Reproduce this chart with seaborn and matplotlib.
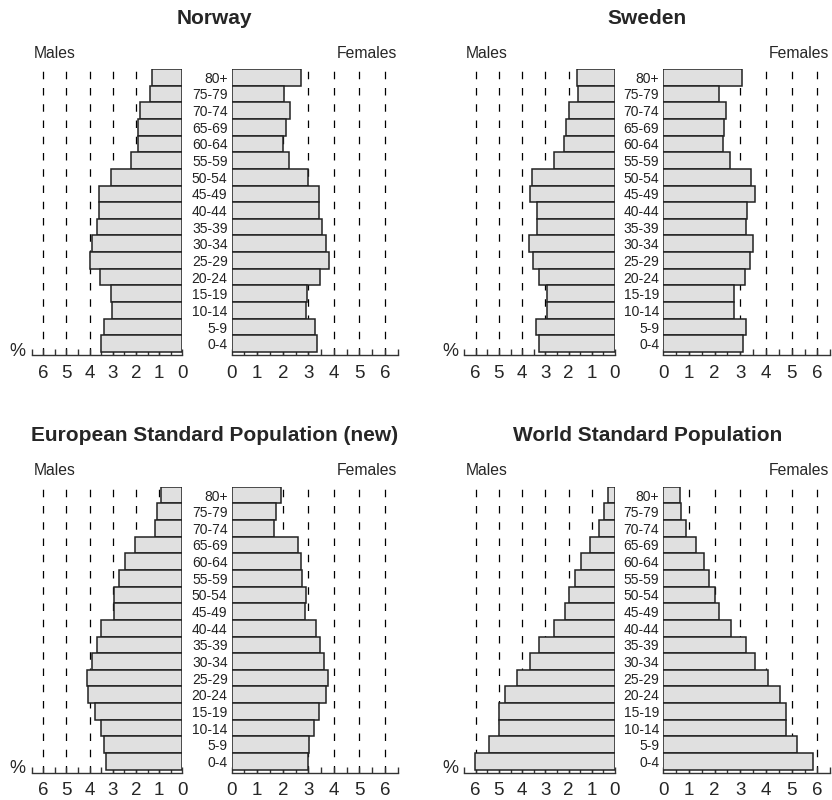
import matplotlib
matplotlib.use("Agg")
import matplotlib.pyplot as plt
from matplotlib.ticker import MultipleLocator
import seaborn as sns
import pandas as pd

# Age groups from youngest to oldest
age_groups = ["0-4", "5-9", "10-14", "15-19", "20-24", "25-29", "30-34", "35-39",
              "40-44", "45-49", "50-54", "55-59", "60-64", "65-69", "70-74", "75-79", "80+"]

# Percent of population per age group
norway_males = [3.53, 3.40, 3.05, 3.09, 3.57, 3.99, 3.88, 3.70, 3.58, 3.61, 3.06, 2.22, 1.93, 1.91, 1.83, 1.40, 1.32]
norway_females = [3.34, 3.25, 2.89, 2.95, 3.47, 3.82, 3.68, 3.53, 3.43, 3.42, 2.97, 2.23, 2.02, 2.14, 2.27, 2.06, 2.70]
sweden_males = [3.29, 3.42, 2.94, 2.91, 3.29, 3.55, 3.72, 3.36, 3.37, 3.66, 3.56, 2.61, 2.21, 2.10, 2.00, 1.59, 1.62]
sweden_females = [3.12, 3.23, 2.77, 2.77, 3.17, 3.39, 3.51, 3.23, 3.26, 3.56, 3.43, 2.61, 2.32, 2.36, 2.43, 2.17, 3.06]
esp_males = [3.31, 3.38, 3.53, 3.77, 4.06, 4.10, 3.88, 3.70, 3.51, 2.96, 2.95, 2.75, 2.49, 2.04, 1.19, 1.08, 0.92]
esp_females = [2.99, 3.04, 3.21, 3.43, 3.70, 3.75, 3.60, 3.47, 3.31, 2.86, 2.89, 2.76, 2.71, 2.58, 1.67, 1.75, 1.92]
wsp_males = [6.04, 5.41, 4.98, 4.98, 4.72, 4.21, 3.66, 3.29, 2.64, 2.15, 1.98, 1.72, 1.45, 1.08, 0.69, 0.46, 0.32]
wsp_females = [5.84, 5.22, 4.79, 4.79, 4.56, 4.09, 3.58, 3.23, 2.62, 2.16, 2.01, 1.79, 1.57, 1.29, 0.90, 0.70, 0.66]

titles = ["Norway", "Sweden", "European Standard Population (new)", "World Standard Population"]
panels = [(norway_males, norway_females), (sweden_males, sweden_females),
          (esp_males, esp_females), (wsp_males, wsp_females)]

sns.set_style("white")
plt.rcParams['font.family'] = ['Liberation Sans', 'DejaVu Sans']

W, H = 832, 800
fig = plt.figure(figsize=(W / 100, H / 100), dpi=100)

FILL = "#e0e0e0"
EDGE = "#222222"
order = age_groups[::-1]  # oldest at top


def px_axes(x0, x1, y_top, y_bot):
    return fig.add_axes([x0 / W, 1 - y_bot / H, (x1 - x0) / W, (y_bot - y_top) / H])


def style_axis(ax):
    for s in ["top", "right", "left"]:
        ax.spines[s].set_visible(False)
    ax.spines["bottom"].set_color("#333333")
    ax.spines["bottom"].set_linewidth(1.0)
    ax.set_xlim(0, 6.5)
    ax.set_xticks(range(7))
    ax.xaxis.set_minor_locator(MultipleLocator(0.5))
    ax.tick_params(axis="x", which="both", bottom=True, direction="in", length=4, width=1,
                   color="#333333", labelsize=13.5, pad=7)
    ax.set_ylim(16.68, -0.5)
    for v in range(1, 7):
        ax.axvline(v, color="black", lw=0.9, ls=(0, (6, 7)), zorder=0)
    ax.set_xlabel("")
    ax.set_ylabel("")


# layout in pixels: (male x0, male zero, female zero, female x1)
cols = [(31.7, 182.3, 231.7, 397.8), (464.1, 615.0, 663.3, 830.2)]
rows = [(69, 355), (486.7, 772.7)]

for i, (title, (males, females)) in enumerate(zip(titles, panels)):
    r, c = divmod(i, 2)
    mx0, mx1, fx0, fx1 = cols[c]
    yt, yb = rows[r]

    df = pd.DataFrame({"age": age_groups, "Males": males, "Females": females})

    ax_m = px_axes(mx0, mx1, yt, yb)
    sns.barplot(data=df, x="Males", y="age", order=order, orient="h", color=FILL,
                saturation=1, edgecolor=EDGE, linewidth=1.1, width=1, ax=ax_m, zorder=2)
    style_axis(ax_m)
    ax_m.set_xlim(6.5, 0)
    ax_m.set_yticks([])

    ax_f = px_axes(fx0, fx1, yt, yb)
    sns.barplot(data=df, x="Females", y="age", order=order, orient="h", color=FILL,
                saturation=1, edgecolor=EDGE, linewidth=1.1, width=1, ax=ax_f, zorder=2)
    style_axis(ax_f)
    ax_f.tick_params(axis="y", left=False, length=0, labelsize=10, pad=3, labelcolor="#222222")

    fig.text((mx0 + fx1) / 2 / W, 1 - (yt - 51) / H, title, ha="center", va="center",
             fontsize=15, fontweight="bold")
    fig.text((mx0 + 2) / W, 1 - (yt - 16) / H, "Males", ha="left", va="center", fontsize=11.3)
    fig.text((fx1 - 1) / W, 1 - (yt - 16) / H, "Females", ha="right", va="center", fontsize=11.3)
    fig.text((mx0 - 6) / W, 1 - (yb - 4) / H, "%", ha="right", va="center", fontsize=13)

fig.savefig("out.png", dpi=100)
